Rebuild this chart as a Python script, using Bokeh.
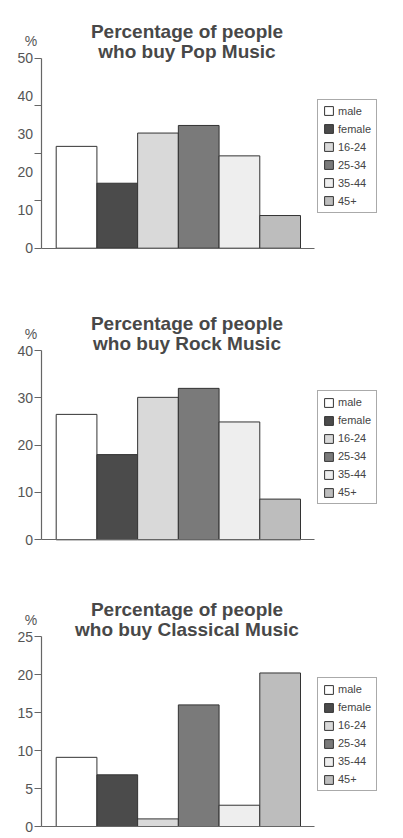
import numpy as np

from bokeh.embed import file_html
from bokeh.layouts import column
from bokeh.models import ColumnDataSource, FixedTicker, Label, Legend, LegendItem, Range1d
from bokeh.plotting import figure
from bokeh.resources import INLINE

# age / sex groups and their grey shades
groups = ["male", "female", "16-24", "25-34", "35-44", "45+"]
group_colors = ["#ffffff", "#4b4b4b", "#d9d9d9", "#7a7a7a", "#eeeeee", "#bdbdbd"]

# percentage of people who buy each kind of music
pop_values = [26.8, 17.1, 30.3, 32.3, 24.3, 8.6]
rock_values = [26.5, 18.0, 30.1, 32.0, 24.9, 8.6]
classical_values = [9.1, 6.8, 1.0, 16.0, 2.8, 20.2]

# tick labels (the pop chart's tick marks don't line up with its labels)
pop_ticks = [0, 10, 20, 30, 40, 50]
pop_tick_marks = [0, 12.5, 25, 37.5, 50]
rock_ticks = [0, 10, 20, 30, 40]
classical_ticks = [0, 5, 10, 15, 20, 25]

FONT = "Liberation Sans"
TEXT = "#484848"
AXIS = "#666666"
W = 403

# horizontal layout in pixels
BAR_LEFT, BAR_RIGHT = 55.7, 300.0
AXIS_LEFT, AXIS_RIGHT = 40.5, 314.0
PX = (BAR_RIGHT - BAR_LEFT) / len(groups)
X0 = -0.5 - BAR_LEFT / PX


def xd(px):
    return X0 + px / PX


def make_chart(music, values, ticks, tick_marks, height, top, bottom):
    # top / bottom: pixel rows of the axis top and of zero inside this figure
    vmax = ticks[-1]
    scale = (bottom - top) / vmax
    y_start = -(height - bottom) / scale
    y_end = vmax + top / scale

    src = ColumnDataSource(dict(group=groups, pos=list(range(len(groups))),
                                value=values, color=group_colors))

    p = figure(width=W, height=height,
               x_range=Range1d(X0, X0 + W / PX), y_range=Range1d(y_start, y_end),
               output_backend="svg", toolbar_location=None, min_border=0)
    p.outline_line_color = None
    p.background_fill_color = "white"
    p.border_fill_color = "white"
    p.grid.visible = False

    r = p.vbar(x="pos", top="value", width=1.0, source=src,
               fill_color="color", line_color="#333333", line_width=1)

    # y axis drawn inside the frame
    yax = p.yaxis[0]
    yax.fixed_location = xd(AXIS_LEFT)
    yax.bounds = (0, vmax)
    yax.axis_line_color = AXIS
    yax.axis_line_width = 1.2
    yax.major_label_text_font = FONT
    yax.major_label_text_font_size = "14px"
    yax.major_label_text_color = "#555555"
    yax.major_label_standoff = 1
    yax.major_tick_out = 7
    yax.major_tick_in = 0
    if tick_marks is not None:
        yax.ticker = FixedTicker(ticks=ticks, minor_ticks=tick_marks)
        yax.major_tick_line_color = None
        yax.minor_tick_out = 7
        yax.minor_tick_in = 0
        yax.minor_tick_line_color = AXIS
        yax.minor_tick_line_width = 1.2
    else:
        yax.ticker = FixedTicker(ticks=ticks)
        yax.major_tick_line_color = AXIS
        yax.major_tick_line_width = 1.2
        yax.minor_tick_line_color = None

    # x axis: only the base line
    xax = p.xaxis[0]
    xax.fixed_location = 0
    xax.bounds = (xd(AXIS_LEFT), xd(AXIS_RIGHT))
    xax.ticker = FixedTicker(ticks=[])
    xax.axis_line_color = AXIS
    xax.axis_line_width = 1.2
    xax.major_tick_line_color = None
    xax.minor_tick_line_color = None

    # two-line title and the % unit
    for txt, dy in [("Percentage of people", 27), ("who buy %s Music" % music, 7)]:
        p.add_layout(Label(x=186.5, y=height - top + dy, x_units="screen", y_units="screen",
                           text=txt, text_align="center", text_baseline="alphabetic",
                           text_font=FONT, text_font_style="bold",
                           text_font_size="19px", text_color=TEXT))
    p.add_layout(Label(x=30.5, y=height - top + 17, x_units="screen", y_units="screen",
                       text="%", text_align="center", text_baseline="alphabetic",
                       text_font=FONT, text_font_size="14px", text_color="#555555"))

    items = [LegendItem(label=g, renderers=[r], index=i) for i, g in enumerate(groups)]
    legend = Legend(items=items, location=(317, height - bottom + 35), margin=0,
                    padding=5, spacing=6,
                    glyph_width=11, glyph_height=11, label_height=12, label_standoff=4,
                    label_text_font=FONT, label_text_font_size="11px", label_text_color="#444444",
                    border_line_color="#555555", border_line_width=1,
                    background_fill_color="white")
    p.add_layout(legend)
    return p


p1 = make_chart("Pop", pop_values, pop_ticks, pop_tick_marks, 290, 57.7, 247.7)
p2 = make_chart("Rock", rock_values, rock_ticks, None, 290, 60, 249.3)
p3 = make_chart("Classical", classical_values, classical_ticks, None, 258, 56, 246)

p = column(p1, p2, p3, spacing=0)

open("out.html", "w").write(file_html(p, INLINE))
